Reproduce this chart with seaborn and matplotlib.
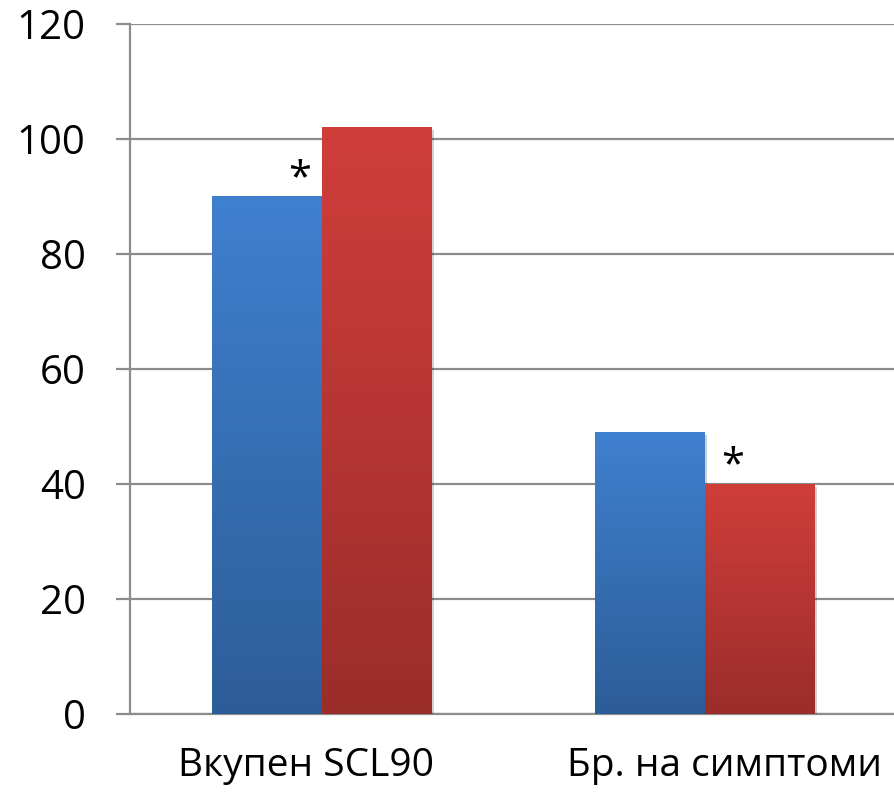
import matplotlib
matplotlib.use("Agg")
import matplotlib.pyplot as plt
import matplotlib.patheffects as pe
import matplotlib.transforms as mtransforms
from matplotlib.colors import LinearSegmentedColormap
import numpy as np
import pandas as pd
import seaborn as sns

categories = ["Вкупен SCL90", "Бр. на симптоми"]
groups = ["A", "B"]
blue_vals = [90, 49]
red_vals = [102, 40]
stars = [("A", 0), ("B", 1)]  # which bar gets an asterisk

df = pd.DataFrame({
    "category": categories * 2,
    "group": [groups[0]] * 2 + [groups[1]] * 2,
    "value": blue_vals + red_vals,
})

sns.set_style("white")
plt.rcParams["font.family"] = ["Open Sans", "DejaVu Sans"]
plt.rcParams["text.color"] = "black"
plt.rcParams["xtick.color"] = "black"
plt.rcParams["ytick.color"] = "black"

fig = plt.figure(figsize=(8.94, 8), dpi=100)
ax = fig.add_axes([130 / 894, 1 - 714 / 800, 766 / 894, 690 / 800])

grad = {"A": ("#3f80cf", "#2d5d98"), "B": ("#d03e3a", "#9b2d2b")}

sns.barplot(df, x="category", y="value", hue="group", order=categories,
            hue_order=groups, palette=[grad["A"][0], grad["B"][0]],
            width=0.574, gap=0, dodge=True, ax=ax, legend=False,
            edgecolor="none", linewidth=0, zorder=3)

# gradient fill + soft shadow on every bar
for container, g in zip(ax.containers, groups):
    cmap = LinearSegmentedColormap.from_list(g, [grad[g][1], grad[g][0]])
    for bar in container:
        x0, y0 = bar.get_x(), bar.get_y()
        w, h = bar.get_width(), bar.get_height()
        bar.set_path_effects([pe.SimplePatchShadow(offset=(2, -2), alpha=0.18, shadow_rgbFace="k"), pe.Normal()])
        im = ax.imshow(np.linspace(0, 1, 256).reshape(-1, 1), cmap=cmap,
                       extent=[x0, x0 + w, y0, y0 + h], origin="lower",
                       aspect="auto", zorder=4)
        im.set_clip_path(bar)

# asterisks
for g, i in stars:
    cont = ax.containers[groups.index(g)]
    bar = cont[i]
    if g == "A":
        x = bar.get_x() + bar.get_width() - 0.057
    else:
        x = bar.get_x() + 0.073
    ax.text(x, bar.get_height() + 3.0, "*", ha="center", va="center",
            fontsize=30, color="black", zorder=5)

ax.set_xlim(-0.5, 1.5)
ax.set_ylim(0, 120)
ax.set_yticks(range(0, 121, 20))
ax.yaxis.grid(True, color="#8c8c8c", linewidth=1.6, zorder=0)
ax.set_axisbelow(True)
for s in ["top", "right"]:
    ax.spines[s].set_visible(False)
for s in ["left", "bottom"]:
    ax.spines[s].set_color("#8c8c8c")
    ax.spines[s].set_linewidth(1.6)
    ax.spines[s].set_zorder(2)

ax.set_xticks([-0.5, 0.5, 1.5], minor=True)
ax.tick_params(axis="x", which="minor", length=10, width=1.6, color="#8c8c8c", direction="out")
ax.tick_params(axis="x", which="major", length=0, pad=24, labelsize=28, labelcolor="black")
ax.tick_params(axis="y", length=10, width=1.6, color="#8c8c8c", direction="out",
               labelsize=29, pad=22, left=True, labelcolor="black")
ax.set_xlabel("")
ax.set_ylabel("")

# nudge category labels sideways like the original layout
for lbl, dx in zip(ax.get_xticklabels(), [-15, 20]):
    lbl.set_transform(lbl.get_transform() + mtransforms.ScaledTranslation(dx / 100, 0, fig.dpi_scale_trans))

fig.savefig("out.png", dpi=100)
